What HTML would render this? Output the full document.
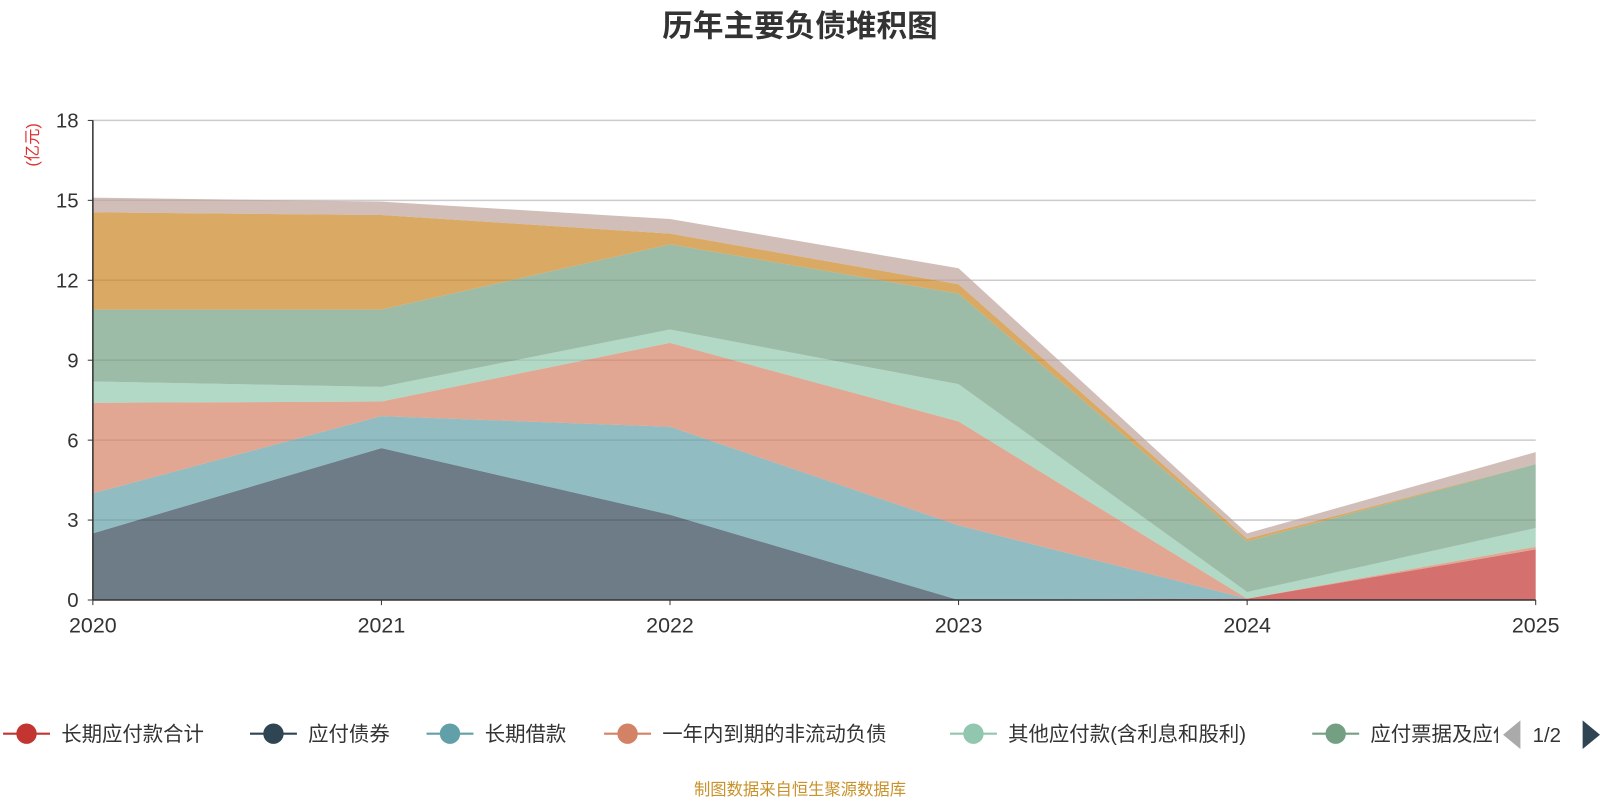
<!DOCTYPE html>
<html><head><meta charset="utf-8"><style>
body{margin:0;background:#fff;font-family:"Liberation Sans","Noto Sans CJK SC",sans-serif;}
svg text{font-family:"Liberation Sans","Noto Sans CJK SC",sans-serif;}
</style></head><body>
<svg id="chart" width="1600" height="800">
<defs><clipPath id="legclip"><rect x="0" y="690" width="1468" height="60"/></clipPath></defs>
<g transform="scale(1.0204)">
<text x="784" y="36" text-anchor="middle" font-size="30" font-weight="bold" fill="#333">历年主要负债堆积图</text>
<text transform="translate(37,142) rotate(-90)" text-anchor="middle" font-size="16" fill="#e03030">(亿元)</text>
<g id="grid"></g><g id="areas"></g><g id="axes"></g><g id="legend"><g id="legitems" clip-path="url(#legclip)"></g></g>
<text x="784" y="779" text-anchor="middle" font-size="16" fill="#c8922a">制图数据来自恒生聚源数据库</text>
</g>
</svg>
<script>
const years=["2020","2021","2022","2023","2024","2025"];
const yTicks=[0,3,6,9,12,15,18];
const seriesNames=["长期应付款合计","应付债券","长期借款","一年内到期的非流动负债","其他应付款(含利息和股利)","应付票据及应付账款","应付账款","其他"];
const colors=["#c23531","#2f4554","#61a0a8","#d48265","#91c7ae","#749f83","#ca8622","#bda29a"];
const s0=[0,0,0,0,0.05,1.9];
const s1=[2.5,5.7,3.2,0,0,0];
const s2=[1.5,1.2,3.3,2.8,0,0];
const s3=[3.4,0.55,3.15,3.9,0,0.1];
const s4=[0.8,0.55,0.5,1.4,0.25,0.7];
const s5=[2.7,2.9,3.2,3.4,1.9,2.4];
const s6=[3.65,3.55,0.4,0.35,0.1,0];
const s7=[0.55,0.5,0.55,0.6,0.2,0.45];
const series=[s0,s1,s2,s3,s4,s5,s6,s7];
const X0=91,X1=1505,Y0=588,Y1=118,YMAX=18;
const xs=i=>X0+(X1-X0)*i/(years.length-1);
const ys=v=>Y0-(Y0-Y1)*v/YMAX;
const NS="http://www.w3.org/2000/svg";
function mk(t,a,p){const e=document.createElementNS(NS,t);for(const k in a)e.setAttribute(k,a[k]);p.appendChild(e);return e;}
const grid=document.getElementById('grid'),axes=document.getElementById('axes'),areas=document.getElementById('areas'),legend=document.getElementById('legend'),legitems=document.getElementById('legitems');
yTicks.forEach(t=>{
 if(t>0){const l=mk('line',{x1:X0,x2:X1,y1:ys(t),y2:ys(t),stroke:'#ccc','stroke-width':1.5},grid);
 
 }
 mk('line',{x1:X0-5,x2:X0,y1:ys(t),y2:ys(t),stroke:'#333'},axes);
 const tx=mk('text',{x:X0-14,y:ys(t)+7,'text-anchor':'end','font-size':20,fill:'#333'},axes);tx.textContent=t;
 
 
});
let cum=years.map(()=>0);
series.forEach((s,k)=>{
 const lower=cum.slice();const upper=cum.map((c,i)=>c+s[i]);cum=upper;
 let d=upper.map((v,i)=>(i?'L':'M')+xs(i)+','+ys(v)).join('');
 for(let i=years.length-1;i>=0;i--)d+='L'+xs(i)+','+ys(lower[i]);
 const p=mk('path',{d:d+'Z',fill:colors[k],'fill-opacity':0.7,stroke:'none'},areas);
 
 
});
mk('line',{x1:X0,x2:X0,y1:Y1,y2:Y0,stroke:'#333','stroke-width':1.5},axes);
mk('line',{x1:X0,x2:X1,y1:Y0,y2:Y0,stroke:'#333','stroke-width':1.5},axes);
years.forEach((y,i)=>{
 mk('line',{x1:xs(i),x2:xs(i),y1:Y0,y2:Y0+5,stroke:'#333'},axes);
 const t=mk('text',{x:xs(i),y:Y0+32,'text-anchor':'middle','font-size':21,fill:'#333'},axes);t.textContent=y;
 
 
});
const lx=[3,245,418,592,931,1286];
lx.forEach((x,k)=>{
 const g=mk('g',{},legitems);
 
 
 mk('line',{x1:x,x2:x+46,y1:719,y2:719,stroke:colors[k],'stroke-width':2},g);
 mk('circle',{cx:x+23,cy:719,r:10,fill:colors[k]},g);
 const t=mk('text',{x:x+57,y:726,'font-size':20,fill:'#333'},g);t.textContent=seriesNames[k];
});
const pl=mk('path',{d:'M1490,706L1473,720L1490,734Z',fill:'#aaa'},legend);


const pt=mk('text',{x:1502,y:727,'font-size':20,fill:'#333'},legend);pt.textContent='1/2';


const pn=mk('path',{d:'M1551,706L1568,720L1551,734Z',fill:'#2f4554'},legend);


</script>
</body></html>
